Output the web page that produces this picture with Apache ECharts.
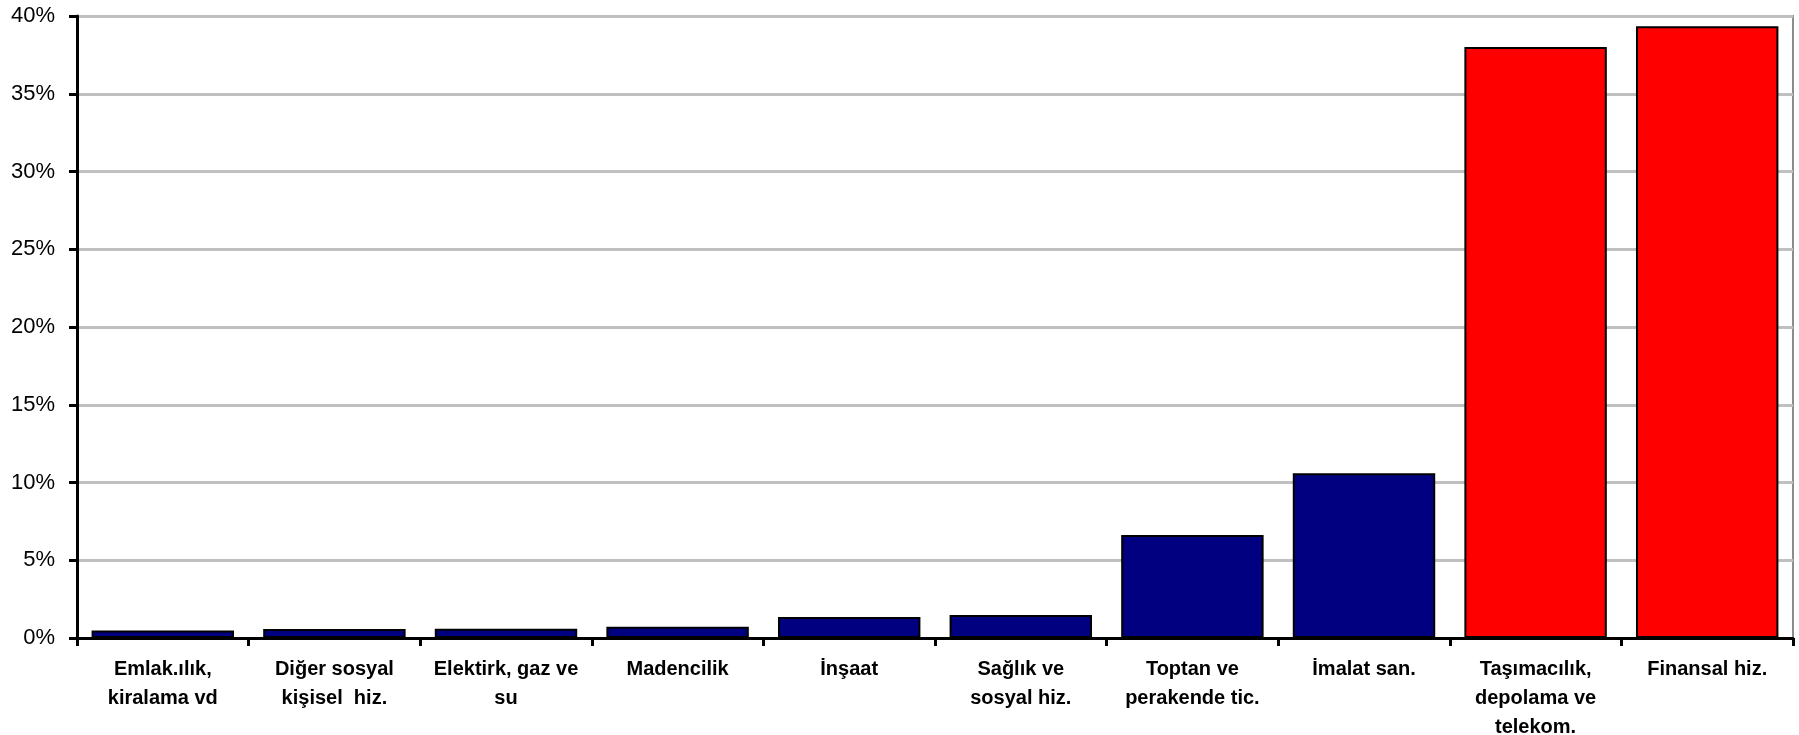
<!DOCTYPE html>
<html>
<head>
<meta charset="utf-8">
<script src="https://cdn.jsdelivr.net/npm/echarts@6/dist/echarts.min.js"></script>
<style>
  html, body { margin: 0; padding: 0; background: #fff; }
  #chart { width: 1799px; height: 735px; }
</style>
</head>
<body>
<div id="chart"></div>
<script>
    var sectors = [
        'Emlak.ılık,\nkiralama vd',
        'Diğer sosyal\nkişisel  hiz.',
        'Elektirk, gaz ve\nsu',
        'Madencilik',
        'İnşaat',
        'Sağlık ve\nsosyal hiz.',
        'Toptan ve\nperakende tic.',
        'İmalat san.',
        'Taşımacılık,\ndepolama ve\ntelekom.',
        'Finansal hiz.'
    ];
    var shares = [0.48, 0.58, 0.60, 0.73, 1.35, 1.48, 6.62, 10.59, 38.0, 39.34];
    var yTicks = [0, 5, 10, 15, 20, 25, 30, 35, 40];

    var chart = echarts.init(document.getElementById('chart'));
    chart.setOption({
        animation: false,
        grid: {
            left: 77, right: 6, top: 16, bottom: 97,
            containLabel: false, outerBoundsMode: 'none',
            show: true, borderColor: '#8c8c8c', borderWidth: 2, backgroundColor: '#fff'
        },
        xAxis: {
            type: 'category',
            data: sectors,
            axisLine: { lineStyle: { color: '#000', width: 3 } },
            axisTick: { show: true, length: 8, lineStyle: { color: '#000', width: 3 } },
            axisLabel: {
                interval: 0, margin: 17,
                fontFamily: 'Liberation Sans', fontWeight: 'bold', fontSize: 20,
                color: '#000', lineHeight: 29
            }
        },
        yAxis: {
            type: 'value',
            min: yTicks[0], max: yTicks[yTicks.length - 1], interval: 5,
            axisLine: { show: true, lineStyle: { color: '#000', width: 3 } },
            axisTick: { show: true, length: 8, lineStyle: { color: '#000', width: 3 } },
            axisLabel: {
                margin: 22, fontFamily: 'Liberation Sans', fontSize: 22, color: '#000',
                formatter: '{value}%'
            },
            splitLine: { lineStyle: { color: '#c0c0c0', width: 3 } }
        },
        series: [{
            type: 'bar',
            data: shares,
            barCategoryGap: '17%',
            itemStyle: {
                color: function (p) { return p.dataIndex >= 8 ? '#ff0000' : '#000080'; },
                borderColor: '#000',
                borderWidth: 2
            }
        }]
    });
</script>
</body>
</html>
